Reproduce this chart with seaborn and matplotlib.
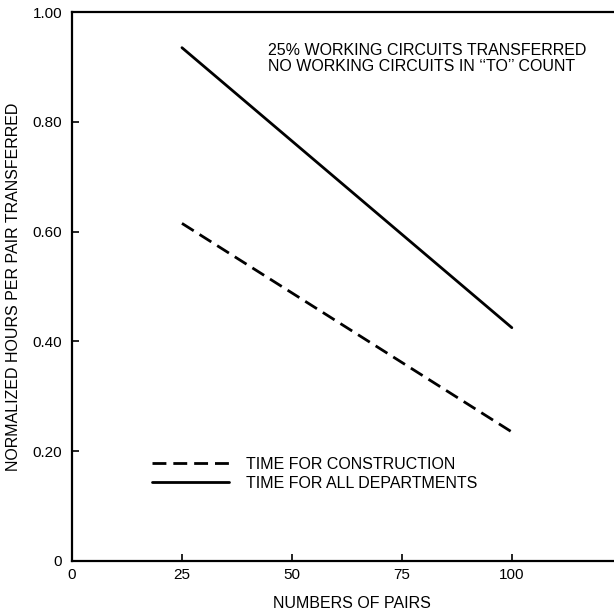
import numpy as np
import pandas as pd
import matplotlib
matplotlib.use("Agg")
import matplotlib.pyplot as plt
import seaborn as sns

# values
pairs = [25, 100]
construction = [0.615, 0.235]
all_departments = [0.935, 0.425]

x_ticks = [0, 25, 50, 75, 100]
x_tick_labels = ["0", "25", "50", "75", "100"]
y_ticks = [0, 0.2, 0.4, 0.6, 0.8, 1.0]
y_tick_labels = ["0", "0.20", "0.40", "0.60", "0.80", "1.00"]

note = "25% WORKING CIRCUITS TRANSFERRED\nNO WORKING CIRCUITS IN \u2018\u2018TO\u2019\u2019 COUNT"

df = pd.DataFrame({
    "pairs": pairs * 2,
    "hours": construction + all_departments,
    "series": ["TIME FOR CONSTRUCTION"] * 2 + ["TIME FOR ALL DEPARTMENTS"] * 2,
})

sns.set_style("ticks")
plt.rcParams["font.family"] = ["Liberation Sans", "DejaVu Sans"]
plt.rcParams["text.color"] = "black"
plt.rcParams["axes.labelcolor"] = "black"

fs = 11.5

fig = plt.figure(figsize=(6.14, 6.14), dpi=100)
ax = fig.add_axes([72 / 614, 53 / 614, 541 / 614, 549 / 614])

sns.lineplot(data=df[df.series == "TIME FOR CONSTRUCTION"], x="pairs", y="hours",
             color="black", lw=2, label="TIME FOR CONSTRUCTION", ax=ax)
ax.lines[-1].set_dashes((5, 2.5))
sns.lineplot(data=df[df.series == "TIME FOR ALL DEPARTMENTS"], x="pairs", y="hours",
             color="black", lw=2, label="TIME FOR ALL DEPARTMENTS", ax=ax)

ax.set_xlim(0, 123)
ax.set_ylim(0, 1.0)
ax.set_xticks(x_ticks)
ax.set_xticklabels(x_tick_labels)
ax.set_yticks(y_ticks)
ax.set_yticklabels(y_tick_labels)
ax.tick_params(direction="in", length=5, width=1.2, labelsize=11, colors="black")
ax.tick_params(axis="x", pad=5)
ax.tick_params(axis="y", pad=7)

for s in ["left", "bottom", "top"]:
    ax.spines[s].set_linewidth(1.6)
    ax.spines[s].set_color("black")
ax.spines["right"].set_visible(False)

ax.set_xlabel("NUMBERS OF PAIRS", fontsize=fs, color="black")
ax.set_ylabel("NORMALIZED HOURS PER PAIR TRANSFERRED", fontsize=fs, color="black")
ax.xaxis.set_label_coords(0.518, -0.064)
ax.yaxis.set_label_coords(-0.094, 0.5)

ax.text(44.5, 0.915, note, fontsize=fs, ha="left", va="center", linespacing=1.05)

ax.legend(loc="upper left", bbox_to_anchor=(0.148, 0.19), frameon=False,
          borderpad=0, borderaxespad=0, handlelength=4.8, handletextpad=1.05,
          labelspacing=0.25, fontsize=fs)

fig.savefig("out.png", dpi=100)
